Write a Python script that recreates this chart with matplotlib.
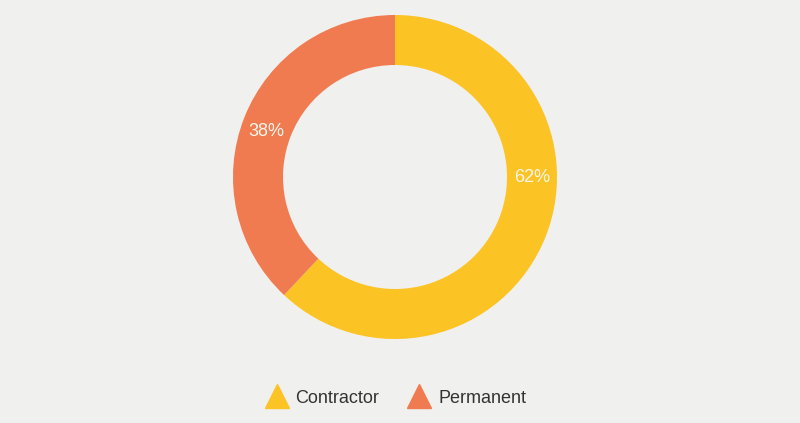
import numpy as np
import matplotlib
matplotlib.use('Agg')
import matplotlib.pyplot as plt
from matplotlib.lines import Line2D

# 資料
labels = ['Contractor', 'Permanent']
values = [62, 38]
colors = ['#FCC324', '#F07B51']
pct_text = ['62%', '38%']

BG = '#F0F0EE'
plt.rcParams['font.family'] = ['Liberation Sans', 'DejaVu Sans']

fig = plt.figure(figsize=(8, 4.23), dpi=100, facecolor=BG)
ax = fig.add_axes([0, 0, 1, 1])
ax.set_facecolor(BG)

cx, cy, r = 395, 246, 162
ring = 50
wedges, _ = ax.pie(values, colors=colors, startangle=90, counterclock=False,
                   center=(cx, cy), radius=r, frame=True,
                   wedgeprops=dict(width=ring, linewidth=0))
ax.set_xlim(0, 800)
ax.set_ylim(0, 423)
ax.set_aspect('equal')
ax.axis('off')

# 百分比標籤
mid_r = r - ring / 2
for i, w in enumerate(wedges):
    ang = (w.theta1 + w.theta2) / 2
    if i == 0:
        ang = 0  # 62% 放在右側水平位置
    else:
        ang += 2
    x = cx + mid_r * np.cos(np.deg2rad(ang))
    y = cy + mid_r * np.sin(np.deg2rad(ang))
    ax.text(x, y, pct_text[i], ha='center', va='center', color='#FBF6EC',
            fontsize=13)

# 圖例
handles = [Line2D([], [], marker='^', linestyle='none', markersize=17,
                  markerfacecolor=c, markeredgecolor=c) for c in colors]
leg = ax.legend(handles, labels, loc='center', bbox_to_anchor=(395 / 800, 25 / 423),
                ncol=2, frameon=False, fontsize=13, handlelength=1.4,
                handletextpad=0.35, columnspacing=1.5, labelcolor='#333333')

fig.savefig('out.png', dpi=100, facecolor=BG)
